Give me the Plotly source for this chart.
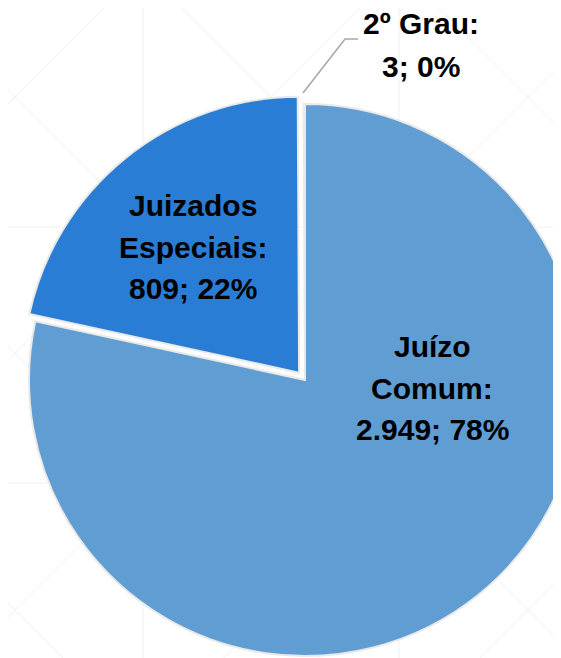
import plotly.graph_objects as go

# ---- data ----
categories = ["Juízo Comum", "Juizados Especiais", "2º Grau"]
display_labels = ["Juízo<br>Comum", "Juizados<br>Especiais", "2º Grau"]
values = [2949, 809, 3]
colors = ["#5f9dd3", "#2a7dd4", "#3f63b0"]
pulls = [0, 0.034, 0]

total = sum(values)
percents = [round(v / total * 100) for v in values]


def fmt(v):
    return f"{v:,}".replace(",", ".")


label_texts = [f"{d}:<br>{fmt(v)}; {p}%" for d, v, p in zip(display_labels, values, percents)]

# ---- figure geometry (pixels of the photographed window) ----
W, H = 700, 670
OFF = 8  # page offset of the plot div
CX, CY, R = 305, 380, 276
half = R * (1 + max(pulls))


def px(x):
    return (x - OFF) / W


def py(y):
    return 1 - (y - OFF) / H


fig = go.Figure()
fig.add_trace(go.Pie(
    labels=categories,
    values=values,
    sort=False,
    direction="clockwise",
    rotation=0,
    pull=pulls,
    marker=dict(colors=colors, line=dict(color="#e9e9e9", width=2)),
    textinfo="none",
    hovertemplate="%{label}: %{value}<extra></extra>",
    domain=dict(x=[px(CX - half), px(CX + half)], y=[py(CY + half), py(CY - half)]),
    showlegend=False,
))

# faint background lattice
shapes = []
grid_col = "rgba(0,0,0,0.06)"
for gx in [143, 399]:
    shapes.append(dict(type="line", xref="paper", yref="paper", x0=px(gx), x1=px(gx), y0=-0.1, y1=1.1,
                       line=dict(color=grid_col, width=1), layer="below"))
for gy in [227, 483]:
    shapes.append(dict(type="line", xref="paper", yref="paper", x0=-0.1, x1=1.1, y0=py(gy), y1=py(gy),
                       line=dict(color=grid_col, width=1), layer="below"))
for k in range(-3, 3):
    a = -82 + 256.5 * k  # x - y = a
    shapes.append(dict(type="line", xref="paper", yref="paper",
                       x0=px(a - 100), y0=py(-100), x1=px(a + 900), y1=py(900),
                       line=dict(color=grid_col, width=1), layer="below"))
for k in range(0, 6):
    b = 112 + 256.5 * k  # x + y = b
    shapes.append(dict(type="line", xref="paper", yref="paper",
                       x0=px(b + 100), y0=py(-100), x1=px(b - 900), y1=py(900),
                       line=dict(color=grid_col, width=1), layer="below"))

# leader line for the tiny slice
shapes.append(dict(type="path", xref="paper", yref="paper",
                   path=f"M {px(303)},{py(93)} L {px(345)},{py(39)} L {px(358)},{py(39)}",
                   line=dict(color="#a6a6a6", width=1.5)))

# label block centres and line spacing (pixels)
label_pos = [(432, 391), (193, 250), (421, 48)]
line_gap = [42, 42, 43]
annotations = []
for t, (lx, ly), gap in zip(label_texts, label_pos, line_gap):
    lines = t.split("<br>")
    n = len(lines)
    for i, ln in enumerate(lines):
        yy = ly + (i - (n - 1) / 2) * gap - 3
        annotations.append(dict(
            text=f"<b>{ln}</b>", x=px(lx), y=py(yy), xref="paper", yref="paper",
            showarrow=False, xanchor="center", yanchor="middle", align="center",
            font=dict(family="Liberation Sans, Arial, sans-serif", size=30, color="#000000"),
        ))

fig.update_layout(
    width=W, height=H,
    margin=dict(l=0, r=0, t=0, b=0),
    paper_bgcolor="#ffffff",
    plot_bgcolor="#ffffff",
    shapes=shapes,
    annotations=annotations,
)

fig.write_html("out.html")
